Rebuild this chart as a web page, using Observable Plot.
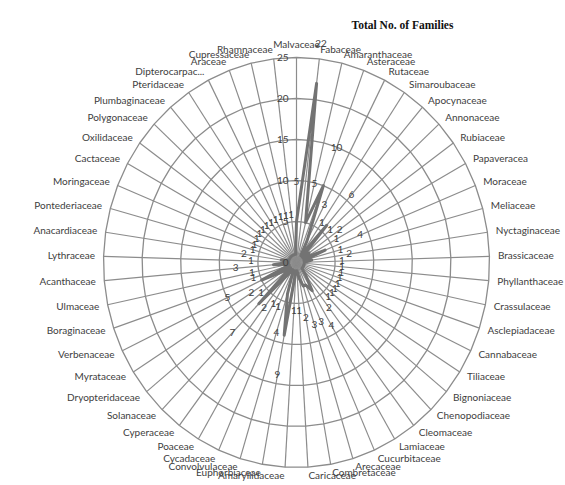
<!DOCTYPE html>
<html><head><meta charset="utf-8">
<script src="https://cdn.jsdelivr.net/npm/d3@7"></script>
<script src="https://cdn.jsdelivr.net/npm/@observablehq/plot@0.6"></script>
<style>body{margin:0;background:#fff}</style>
</head><body><div id="chart"></div>
<script>
const families = ["Malvaceae","Fabaceae","Amaranthaceae","Asteraceae","Rutaceae","Simaroubaceae","Apocynaceae","Annonaceae","Rubiaceae","Papaveracea","Moraceae","Meliaceae","Nyctaginaceae","Brassicaceae","Phyllanthaceae","Crassulaceae","Asclepiadaceae","Cannabaceae","Tiliaceae","Bignoniaceae","Chenopodiaceae","Cleomaceae","Lamiaceae","Cucurbitaceae","Arecaceae","Combretaceae","Caricaceae","Amaryllidaceae","Euphorbiaceae","Convolvulaceae","Cycadaceae","Poaceae","Cyperaceae","Solanaceae","Dryopteridaceae","Myrataceae","Verbenaceae","Boraginaceae","Ulmaceae","Acanthaceae","Lythraceae","Anacardiaceae","Pontederiaceae","Moringaceae","Cactaceae","Oxilidaceae","Polygonaceae","Plumbaginaceae","Pteridaceae","Dipterocarpac...","Araceae","Cupressaceae","Rhamnaceae"];
const counts = [5,22,5,10,3,1,6,1,2,1,4,1,2,1,1,1,1,1,1,1,1,2,4,3,3,2,1,1,9,4,1,1,2,7,1,2,5,1,1,3,1,2,1,1,1,1,1,1,1,1,1,1,1];
const ringTicks = [0,5,10,15,20,25];
const title = "Total No. of Families";

const n = families.length;
const rMax = ringTicks[ringTicks.length-1];
const ang = i => 2*Math.PI*i/n;
const px = (r,a) => r*Math.sin(a);
const py = (r,a) => r*Math.cos(a);
const rows = families.map((f,i) => ({family:f, count:counts[i], i, a:ang(i)}));
const rings = ringTicks.filter(t => t > 0).flatMap(t => d3.range(n+1).map(k => ({ring:t, x:px(t,ang(k%n)), y:py(t,ang(k%n))})));
const series = d3.range(n+1).map(k => { const d = rows[k%n]; return {x:px(d.count,d.a), y:py(d.count,d.a)}; });
const labR = rMax + 1.1;
const labelOff = 4.9;
const grid = "#8c8c8c";
const txt = "#404040";

const chart = Plot.plot({
  width:565, height:485,
  marginLeft:103, marginRight:76, marginTop:57, marginBottom:18,
  x:{domain:[-rMax,rMax], axis:null},
  y:{domain:[-rMax,rMax], axis:null},
  style:{fontFamily:"Lato, sans-serif", background:"#fff", overflow:"visible"},
  marks:[
    Plot.link(rows, {x1:()=>0, y1:()=>0, x2:d=>px(rMax,d.a), y2:d=>py(rMax,d.a), stroke:grid, strokeWidth:1.2}),
    Plot.line(rings, {x:"x", y:"y", z:"ring", stroke:grid, strokeWidth:1.3}),
    Plot.line(series, {x:"x", y:"y", stroke:"#737373", strokeWidth:3, strokeLinejoin:"round"}),
    Plot.text(ringTicks, {x:()=>0, y:d=>d, text:d=>String(d), textAnchor:"end", dx:-8, fontSize:10, fill:txt}),
    Plot.text(rows, {x:d=>px(d.count+labelOff,d.a), y:d=>py(d.count+labelOff,d.a), text:d=>String(d.count), fontSize:10, fill:txt}),
    Plot.text(rows.filter(d=>d.i===0), {x:d=>px(labR,d.a), y:d=>py(labR,d.a), text:"family", textAnchor:"middle", lineAnchor:"bottom", fontSize:10, fill:txt}),
    Plot.text(rows.filter(d=>d.i>0 && d.i<=n/2), {x:d=>px(labR,d.a), y:d=>py(labR,d.a), text:"family", textAnchor:"start", fontSize:10, fill:txt}),
    Plot.text(rows.filter(d=>d.i>n/2), {x:d=>px(labR,d.a), y:d=>py(labR,d.a), text:"family", textAnchor:"end", fontSize:10, fill:txt}),
    Plot.text([title], {frameAnchor:"top-right", textAnchor:"middle", dx:-87, dy:-37, fontFamily:"Liberation Serif, serif", fontWeight:"bold", fontSize:11.5, fill:"#111"})
  ]
});
document.getElementById("chart").appendChild(chart);
</script>
</body></html>
